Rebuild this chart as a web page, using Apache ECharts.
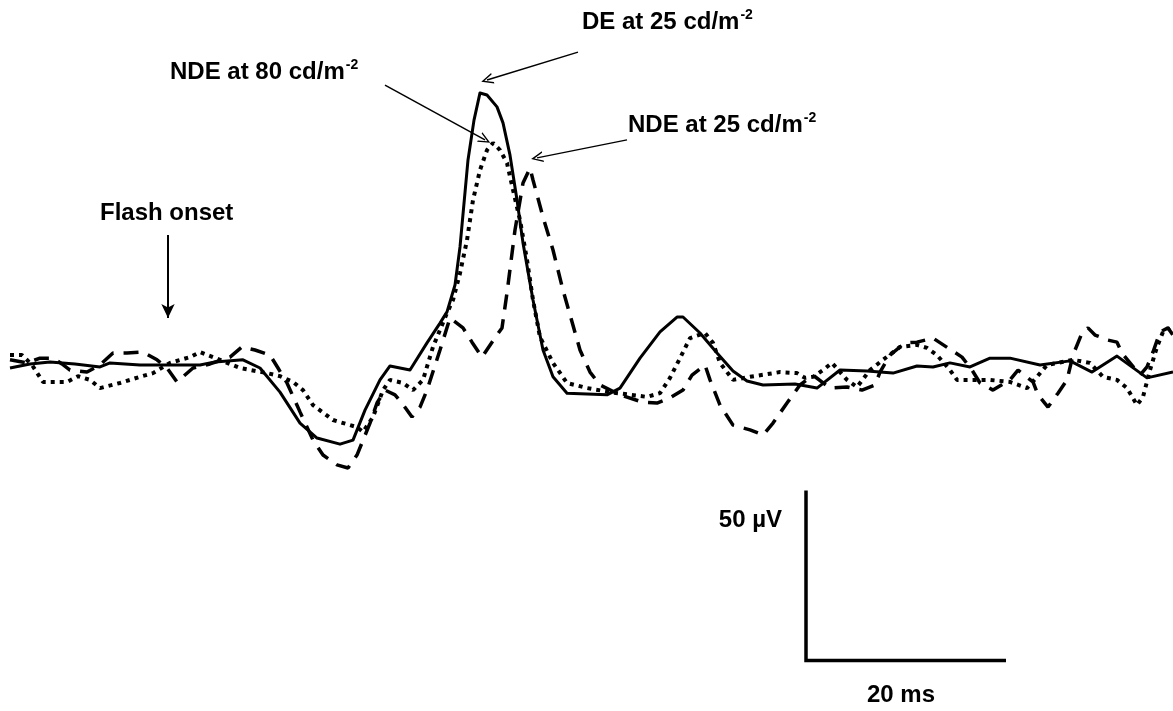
<!DOCTYPE html>
<html>
<head>
<meta charset="utf-8">
<script src="https://cdn.jsdelivr.net/npm/echarts@6/dist/echarts.min.js"></script>
<style>html,body{margin:0;padding:0;background:#fff}#c{width:1173px;height:711px}</style>
</head>
<body>
<div id="c"></div>
<script>
// Time (ms, flash onset = 0) and amplitude (µV)
const deTime = [-15.8,-13.8,-11.8,-9.3,-6.8,-5.8,-2.8,0.2,3.2,4.7,7.5,9.2,11.2,13.2,14.9,17.2,18.5,19.7,21.2,22.2,24.2,25.9,27.2,27.9,28.7,29.2,30.0,30.6,31.2,31.9,32.9,33.5,34.2,34.9,35.5,36.5,37.5,38.5,39.9,43.9,45.2,47.2,49.2,50.9,51.5,53.2,54.9,56.5,57.9,59.5,62.7,64.9,67.2,69.9,72.5,74.9,76.5,78.2,80.2,82.2,84.2,87.2,90.2,92.4,94.9,97.9,100.5];
const deVal  = [0,1.2,1.8,1.2,0.3,1.5,0.9,0.9,0.9,1.8,2.4,0,-7.1,-16.2,-20.6,-22.4,-21.2,-12.4,-3.5,0.6,-0.6,7.4,13.2,16.5,24.4,35.6,61.2,72.9,80.9,80.3,76.8,72.1,62.6,49.4,36.8,20.0,5.3,-2.6,-7.4,-7.9,-5.9,2.9,10.6,15.0,15.0,10.3,4.4,-0.9,-3.8,-5.0,-4.7,-5.9,-0.6,-0.9,-1.5,0.6,0.3,1.5,0.3,2.9,2.9,0.9,2.1,-1.2,3.5,-2.9,-1.2];

const nde80Time = [-15.8,-14.6,-13.6,-12.5,-10.1,-9.0,-7.8,-6.8,-4.8,-2.8,-1.5,0.2,2.2,3.2,4.5,7.2,9.9,11.2,12.5,13.5,14.5,16.5,18.9,19.5,20.5,21.5,22.2,23.5,24.5,25.5,26.5,27.2,27.9,28.5,29.2,29.9,30.5,31.2,31.9,32.5,33.2,33.9,34.5,35.2,35.9,36.5,37.2,38.5,39.9,41.9,44.2,47.9,49.2,50.2,51.2,52.2,53.7,54.5,55.2,56.5,58.2,61.2,62.9,63.7,64.5,65.5,66.4,67.9,68.9,70.2,71.5,73.2,74.9,75.9,76.9,78.2,78.9,82.2,84.2,85.9,86.9,87.9,90.5,92.2,93.5,94.9,95.9,96.9,97.5,98.2,98.9,99.5,100.2];
const nde80Val  = [3.8,3.8,0.9,-4.1,-4.1,-2.4,-3.5,-5.9,-4.4,-2.6,-1.5,1.5,3.2,4.7,3.2,0,-1.5,-2.4,-4.1,-6.5,-10.9,-15.3,-17.4,-18.8,-14.4,-6.5,-3.5,-4.4,-6.5,-3.5,6.2,11.2,16.2,20.0,27.9,37.6,49.4,58.2,64.1,66.2,64.1,60.3,52.4,43.5,31.8,20.0,9.1,1.5,-4.4,-5.9,-7.1,-8.5,-7.4,-2.9,2.9,8.8,10.3,7.4,1.5,-3.5,-2.6,-1.2,-1.5,-2.9,-2.6,-0.6,1.5,-3.5,-5.6,-0.6,2.4,6.2,6.8,5.9,3.8,-0.6,-3.5,-3.5,-4.1,-5.9,-2.6,0.9,2.4,1.5,-2.6,-3.5,-5.9,-10.9,-8.5,-0.6,6.2,10.6,11.8];

const nde25Time = [-15.8,-14.1,-12.8,-11.5,-10.6,-9.8,-8.1,-6.8,-5.5,-4.1,-2.5,-1.1,-0.1,0.9,2.5,4.2,6.2,7.4,8.7,10.2,11.0,11.9,13.2,14.5,15.5,16.9,18.0,18.9,20.2,20.9,21.7,22.7,23.4,24.4,25.2,25.9,27.2,28.2,29.5,30.4,31.4,32.4,33.4,33.9,34.7,35.5,36.2,36.5,37.5,38.5,39.5,41.2,42.2,43.2,45.2,47.4,48.9,50.2,51.5,52.4,53.7,54.2,55.2,56.5,58.2,59.5,60.5,61.9,63.2,64.5,66.2,67.9,69.4,70.7,71.2,72.2,73.7,74.9,76.5,78.0,79.4,80.4,81.2,82.5,84.2,85.0,86.5,87.0,88.0,89.0,89.9,90.5,91.4,92.0,92.7,94.0,94.9,95.4,97.2,97.9,98.5,99.2,100.0,100.5];
const nde25Val  = [2.4,1.5,2.9,2.9,1.2,-0.6,-1.2,0.9,4.4,4.4,4.7,2.4,0,-4.1,0,1.2,3.2,6.2,5.3,3.8,0,-4.4,-12.9,-21.2,-25.6,-28.5,-29.4,-25.6,-16.2,-10.3,-6.5,-7.9,-10.3,-14.4,-11.5,-6.5,5.3,14.7,11.8,7.6,3.2,7.6,11.8,22.1,40.6,54.4,58.8,55.3,44.4,34.7,22.9,5.3,-1.2,-5.0,-7.9,-10.0,-10.3,-8.8,-6.5,-2.1,0.9,-3.5,-10.9,-16.8,-18.2,-19.7,-16.2,-10.3,-5.0,-2.1,-5.9,-5.6,-6.5,-5.0,-1.2,3.8,7.4,7.6,8.8,5.9,3.2,-0.6,-4.4,-6.5,-3.5,-0.6,-4.1,-7.9,-11.5,-7.4,-3.5,3.8,10.3,11.8,9.7,8.2,7.6,4.4,-2.1,0.3,4.7,10.6,11.8,9.7];

// Scale bar: 50 µV by 20 ms
const scaleBarAmp = 50;
const scaleBarDur = 20;
const scaleBarOrigin = [63.8, -86];

// Annotation arrows [fromTime, fromVal, toTime, toVal]
const arrowFlash = [0, 39.1, 0, 14.7];
const arrowDE    = [41.0, 92.9, 31.9, 84.7];
const arrowNDE80 = [21.7, 83.2, 31.7, 67.1];
const arrowNDE25 = [45.9, 67.1, 36.9, 61.8];

const labels = ['DE at 25 cd/m', 'NDE at 80 cd/m', 'NDE at 25 cd/m', 'Flash onset', '50 µV', '20 ms'];
const supText = '-2';

function zip(t, v) { return t.map((x, i) => [x, v[i]]); }

const chart = echarts.init(document.getElementById('c'), null, {renderer: 'canvas'});
const FONT = '"Liberation Sans", Arial, sans-serif';
const rich = {
  m: {fontSize: 24, fontWeight: 'bold', fontFamily: FONT, color: '#000', lineHeight: 28},
  s: {fontSize: 14, fontWeight: 'bold', fontFamily: FONT, color: '#000', verticalAlign: 'top', lineHeight: 28, padding: [0,0,0,1]}
};
const openHead = 'path://M5,0 L10,11 L8.6,11 L5,3 L1.4,11 L0,11 Z';
function arrow(a, head, size) {
  return [{coord: [a[0], a[1]], symbol: 'none'}, {coord: [a[2], a[3]], symbol: head, symbolSize: size}];
}

const o = scaleBarOrigin;
chart.setOption({
  animation: false,
  backgroundColor: '#fff',
  grid: {left: 8, right: 0, top: 0, bottom: 0, containLabel: false},
  xAxis: {type: 'value', min: -16, max: 100.5, show: false},
  yAxis: {type: 'value', min: -100.88, max: 108.235, show: false},
  series: [
    {name: 'DE at 25', type: 'line', data: zip(deTime, deVal), showSymbol: false, symbol: 'none',
     lineStyle: {color: '#000', width: 3, type: 'solid', join: 'round'}, z: 3},
    {name: 'NDE at 80', type: 'line', data: zip(nde80Time, nde80Val), showSymbol: false, symbol: 'none',
     lineStyle: {color: '#000', width: 4, type: [4, 5], cap: 'butt'}, z: 2},
    {name: 'NDE at 25', type: 'line', data: zip(nde25Time, nde25Val), showSymbol: false, symbol: 'none',
     lineStyle: {color: '#000', width: 3.5, type: [15, 10], cap: 'butt'}, z: 2},
    {name: 'scale', type: 'line', showSymbol: false, symbol: 'none',
     data: [[o[0], o[1] + scaleBarAmp], [o[0], o[1]], [o[0] + scaleBarDur, o[1]]],
     lineStyle: {color: '#000', width: 3.5, join: 'miter'},
     markLine: {
       silent: true, animation: false,
       label: {show: false},
       lineStyle: {color: '#000', width: 1.5, type: 'solid'},
       data: [
         arrow(arrowDE, openHead, [11, 12]),
         arrow(arrowNDE80, openHead, [11, 12]),
         arrow(arrowNDE25, openHead, [11, 12]),
         [{coord: [arrowFlash[0], arrowFlash[1]], symbol: 'none', lineStyle: {width: 2}},
          {coord: [arrowFlash[2], arrowFlash[3]], symbol: 'arrow', symbolSize: [10, 14], lineStyle: {width: 2}}]
       ]
     }}
  ],
  graphic: [
    {type: 'text', x: 582, y: 22, style: {text: '{m|' + labels[0] + '}{s|' + supText + '}', rich: rich, verticalAlign: 'middle'}},
    {type: 'text', x: 170, y: 72, style: {text: '{m|' + labels[1] + '}{s|' + supText + '}', rich: rich, verticalAlign: 'middle'}},
    {type: 'text', x: 628, y: 125, style: {text: '{m|' + labels[2] + '}{s|' + supText + '}', rich: rich, verticalAlign: 'middle'}},
    {type: 'text', x: 100, y: 213, style: {text: labels[3], font: 'bold 24px ' + FONT, fill: '#000', verticalAlign: 'middle'}},
    {type: 'text', x: 782, y: 520, style: {text: labels[4], font: 'bold 24px ' + FONT, fill: '#000', align: 'right', verticalAlign: 'middle'}},
    {type: 'text', x: 901, y: 695, style: {text: labels[5], font: 'bold 24px ' + FONT, fill: '#000', align: 'center', verticalAlign: 'middle'}}
  ]
});
</script>
</body>
</html>
